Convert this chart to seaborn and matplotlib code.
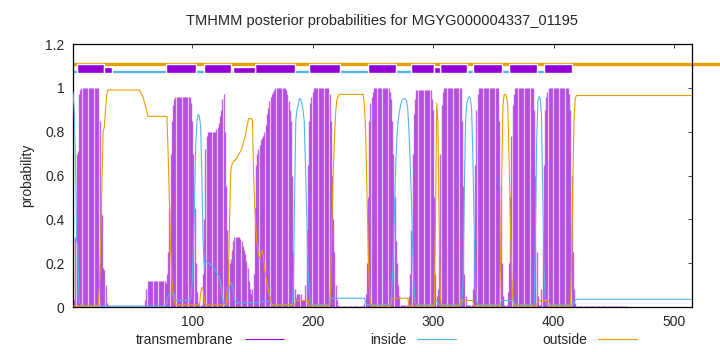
import numpy as np
import pandas as pd
import seaborn as sns
import matplotlib
matplotlib.use("Agg")
import matplotlib.pyplot as plt

# per-residue posterior probabilities (residues 1..515)
tm = ([0.02, 0.03, 0.32, 0.70, 0.71, 0.97, 0.99] + [1.0] * 15 +
      [0.85, 0.43, 0.42, 0.18, 0.17, 0.10, 0.02] + [0.005] * 31 +
      [0.03, 0.08] + [0.12] * 15 +
      [0.11, 0.15, 0.25, 0.45, 0.70, 0.85, 0.92, 0.95] + [0.96] * 13 +
      [0.93, 0.85, 0.70, 0.45, 0.20, 0.07, 0.02] + [0.01] * 3 +
      [0.15, 0.40, 0.72, 0.78] + [0.80] * 7 +
      [0.81, 0.82, 0.84, 0.87, 0.90, 0.95, 0.97, 0.80, 0.55, 0.35, 0.22, 0.20, 0.22, 0.26, 0.30] +
      [0.32] * 5 +
      [0.31, 0.30, 0.28, 0.26, 0.24, 0.21, 0.18, 0.12, 0.08, 0.06, 0.08, 0.15, 0.45, 0.65, 0.70,
       0.72, 0.74, 0.76, 0.77, 0.78, 0.80, 0.83, 0.88, 0.91, 0.94, 0.96, 0.97, 0.98, 0.99] +
      [1.0] * 9 +
      [0.99, 0.97, 0.94, 0.90, 0.85, 0.60, 0.25, 0.08, 0.04] + [0.06] * 4 + [0.03] * 3 +
      [0.10, 0.35, 0.65, 0.85, 0.93, 0.96, 0.98] + [1.0] * 13 +
      [0.97, 0.85, 0.60, 0.40, 0.25, 0.10, 0.03] + [0.005] * 22 +
      [0.02, 0.06, 0.20, 0.50, 0.85, 0.93, 0.96, 0.98] + [1.0] * 13 +
      [0.98, 0.95, 0.85, 0.70, 0.50, 0.30, 0.20, 0.10, 0.05] + [0.01] * 7 +
      [0.05, 0.15, 0.35, 0.70, 0.88, 0.95] + [0.99] * 13 +
      [0.95, 0.90, 0.50, 0.15, 0.05, 0.08, 0.30, 0.70, 0.92, 0.98] + [1.0] * 15 +
      [0.85, 0.55, 0.15, 0.05] + [0.01] * 5 +
      [0.08, 0.30, 0.65, 0.90, 0.97] + [1.0] * 17 +
      [0.85, 0.55, 0.20, 0.05] + [0.01] * 3 +
      [0.07, 0.20, 0.50, 0.78, 0.92, 0.97] + [1.0] * 16 +
      [0.90, 0.60, 0.25, 0.05] + [0.01] * 2 +
      [0.08, 0.30, 0.65, 0.90, 0.96, 0.98] + [1.0] * 17 +
      [0.97, 0.90, 0.60, 0.25, 0.08, 0.02] + [0.005] * 42 + [0.0] * 55)

inside = ([0.98, 0.90, 0.68, 0.30, 0.28, 0.03, 0.01] + [0.005] * 71 +
          [0.02, 0.05] + [0.06] * 5 + [0.03] * 13 +
          [0.05, 0.12, 0.28, 0.52, 0.75, 0.85, 0.88, 0.87, 0.82, 0.60, 0.30, 0.18, 0.20, 0.21] +
          [0.20, 0.20, 0.19, 0.19, 0.18, 0.18, 0.17] +
          [0.16, 0.15, 0.14, 0.12, 0.09, 0.04, 0.02] + [0.01] * 3 +
          [0.05, 0.10, 0.11, 0.10, 0.08, 0.04] + [0.02] * 19 + [0.025] * 11 + [0.01] * 18 +
          [0.10, 0.50, 0.85, 0.90, 0.92, 0.95, 0.95, 0.93, 0.90, 0.85, 0.65, 0.45, 0.20, 0.08, 0.03] +
          [0.01] * 16 + [0.04] * 29 + [0.02] + [0.01] * 21 +
          [0.10, 0.25, 0.45, 0.65, 0.78, 0.85, 0.89, 0.92, 0.94, 0.95, 0.95, 0.95, 0.94, 0.90,
           0.80, 0.65, 0.50, 0.28, 0.10, 0.03] +
          [0.01] * 16 + [0.03, 0.03, 0.02] + [0.01] * 20 +
          [0.15, 0.55, 0.85, 0.93, 0.95, 0.96, 0.95, 0.90, 0.70, 0.40, 0.10, 0.03] +
          [0.01] * 20 + [0.03] * 11 + [0.01] * 17 +
          [0.35, 0.75, 0.94, 0.96, 0.95, 0.88, 0.55, 0.20, 0.05] +
          [0.01] * 23 + [0.02, 0.03] + [0.035] * 97)

outside = ([0.005] * 22 + [0.10, 0.30, 0.55, 0.80, 0.82, 0.90, 0.97] + [0.99] * 27 +
           [0.98, 0.97, 0.96, 0.94, 0.92, 0.90] + [0.87] * 17 +
           [0.70, 0.48, 0.28, 0.14, 0.06, 0.02] + [0.01] * 21 +
           [0.06, 0.09, 0.08, 0.03] + [0.01] * 18 +
           [0.08, 0.10, 0.40, 0.62, 0.65, 0.66, 0.67, 0.67, 0.68, 0.69, 0.70, 0.71, 0.72, 0.74,
            0.76, 0.78, 0.81, 0.84, 0.86, 0.86, 0.86, 0.85, 0.60, 0.45, 0.35, 0.28, 0.24, 0.22,
            0.24, 0.26, 0.24, 0.18, 0.14, 0.11, 0.08, 0.06, 0.04] +
           [0.01] * 20 + [0.03] * 11 + [0.005] * 18 +
           [0.10, 0.40, 0.60, 0.75, 0.88, 0.94, 0.96] + [0.97] * 21 +
           [0.92, 0.80, 0.55, 0.30, 0.08, 0.02] + [0.005] * 17 + [0.04] * 14 + [0.005] * 22 +
           [0.40, 0.93, 0.85, 0.40, 0.05] + [0.005] * 16 + [0.03] * 11 + [0.005] * 22 +
           [0.20, 0.60, 0.92, 0.97, 0.97, 0.96, 0.92, 0.70, 0.45, 0.20, 0.05] +
           [0.005] * 20 + [0.03] * 10 + [0.005] * 18 +
           [0.20, 0.55, 0.85, 0.95] + [0.965] * 97)

# predicted topology (residue ranges) for the bar on top
tm_boxes = [(4, 27), (78, 103), (110, 132), (152, 185), (197, 223), (246, 269),
            (282, 301), (306, 328), (333, 357), (363, 386), (392, 415)]
tm_boxes_low = [(27, 33), (134, 152), (301, 306)]
inside_segs = [(1, 4), (33, 78), (103, 110), (132, 134), (185, 197), (223, 246),
               (269, 282), (328, 333), (357, 363), (386, 392)]
seq_len = 515

c_tm = "#9400D3"
c_in = "#56B4E9"
c_out = "#E69F00"

sns.set_style("white")
plt.rcParams["font.family"] = ["Liberation Sans", "DejaVu Sans"]
plt.rcParams["font.size"] = 10

df = pd.DataFrame({"pos": np.arange(1, len(tm) + 1), "tm": tm})
df_in = pd.DataFrame({"pos": np.arange(1, len(inside) + 1), "p": inside})
df_out = pd.DataFrame({"pos": np.arange(1, len(outside) + 1), "p": outside})

fig = plt.figure(figsize=(7.2, 3.52), dpi=100)
ax = fig.add_axes([0.1014, 0.1278, 0.8597, 0.7472])

# topology bar
ax.hlines(1.11, 1, 540, color=c_out, lw=2.4, clip_on=False, zorder=2)
ax.hlines([1.071] * len(inside_segs), [s for s, e in inside_segs], [e for s, e in inside_segs],
          color=c_in, lw=1.7, zorder=2)
ax.broken_barh([(s, e - s) for s, e in tm_boxes], (1.066, 0.044), facecolors=c_tm, zorder=3)
ax.broken_barh([(s, e - s) for s, e in tm_boxes_low], (1.066, 0.030), facecolors=c_tm, zorder=3)

# posterior curves
ax.vlines(df["pos"], 0, df["tm"], color=c_tm, lw=1.0, alpha=0.6, label="transmembrane", zorder=1)
sns.lineplot(data=df_in, x="pos", y="p", ax=ax, color=c_in, lw=0.8, label="inside", zorder=4)
sns.lineplot(data=df_out, x="pos", y="p", ax=ax, color=c_out, lw=0.8, label="outside", zorder=4)

ax.set_xlim(1, seq_len)
ax.set_ylim(0, 1.2)
ax.set_xticks([100, 200, 300, 400, 500])
ax.set_yticks([0, 0.2, 0.4, 0.6, 0.8, 1.0, 1.2])
ax.set_yticklabels(["0", "0.2", "0.4", "0.6", "0.8", "1", "1.2"])
ax.tick_params(direction="in", length=3, width=0.6, top=True, right=True, labelsize=10, pad=6)
for sp in ax.spines.values():
    sp.set_color("black")
    sp.set_linewidth(0.9)
ax.set_xlabel("")
ax.set_ylabel("probability", fontsize=10, labelpad=8)
ax.set_title("TMHMM posterior probabilities for MGYG000004337_01195", fontsize=10.5, pad=14)

leg = ax.legend(loc="center", bbox_to_anchor=(0.537, 0.034), bbox_transform=fig.transFigure,
                ncol=3, frameon=False, markerfirst=False, handlelength=2.8, handletextpad=0.8,
                columnspacing=6.2, fontsize=10)
for h in leg.legend_handles:
    h.set_alpha(1.0)
    h.set_linewidth(0.8)

fig.savefig("out.png", dpi=100)
